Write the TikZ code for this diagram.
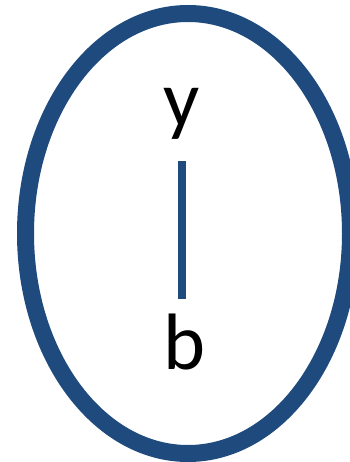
\documentclass[tikz,border=0pt]{standalone}
\usepackage{fontspec}
\setmainfont{Carlito}
\definecolor{ringblue}{HTML}{1F4A7D}
\begin{document}
\begin{tikzpicture}[x=1pt,y=1pt,
  lbl/.style={inner sep=0pt, font=\fontsize{80}{96}\selectfont, text=black},
  ring/.style={draw=ringblue, line width=17pt},
  link/.style={draw=ringblue, line width=8pt}]
\useasboundingbox (0,0) rectangle (349,-462);
\draw[ring] (188,-233.5) ellipse [x radius=162.5, y radius=220];
\node[lbl, anchor=base] (y) at (182,-127) {y};
\node[lbl, anchor=base] (b) at (185,-369) {b};
\draw[link, shorten <=21pt, shorten >=14pt] (y.south) -- (y.south |- b.north);
\end{tikzpicture}
\end{document}
